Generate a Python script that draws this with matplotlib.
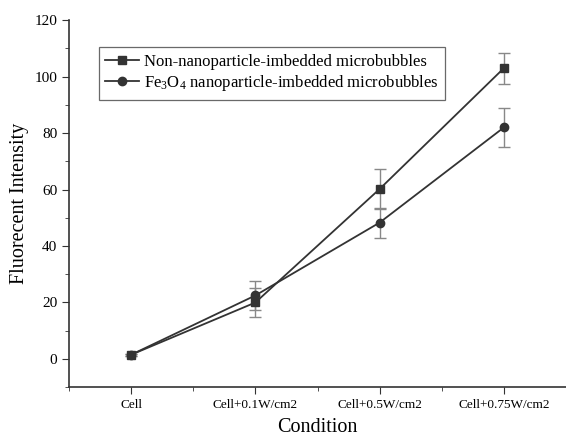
import matplotlib
matplotlib.use("Agg")
import matplotlib.pyplot as plt
from matplotlib.ticker import MultipleLocator, FixedLocator

plt.rcParams['font.family'] = ['Liberation Serif', 'DejaVu Serif']
plt.rcParams['mathtext.fontset'] = 'custom'
plt.rcParams['mathtext.rm'] = 'Liberation Serif'
plt.rcParams['mathtext.it'] = 'Liberation Serif:italic'

# data
conditions = ['Cell', 'Cell+0.1W/cm2', 'Cell+0.5W/cm2', 'Cell+0.75W/cm2']
non_np = [1.5, 20.0, 60.2, 103.0]
non_np_err = [0.3, 5.0, 7.0, 5.5]
fe3o4 = [1.5, 22.5, 48.3, 82.0]
fe3o4_err = [0.3, 5.0, 5.3, 7.0]

fig = plt.figure(figsize=(5.66, 4.38), dpi=100)
ax = fig.add_axes([0.122, 0.116, 0.878, 0.838])

x = list(range(len(conditions)))
c_line = '#333333'
c_err = '#888888'

# error bars first, no legend entry
for vals, errs in [(non_np, non_np_err), (fe3o4, fe3o4_err)]:
    ax.errorbar(x, vals, yerr=errs, fmt='none', ecolor=c_err,
                elinewidth=1.0, capsize=4, capthick=1.0, zorder=2)

ax.plot(x, non_np, 's-', color=c_line, markersize=6, lw=1.3, zorder=3,
        label='Non-nanoparticle-imbedded microbubbles')
ax.plot(x, fe3o4, 'o-', color=c_line, markersize=6, lw=1.3, zorder=3,
        label='Fe$_\\mathregular{3}$O$_\\mathregular{4}$ nanoparticle-imbedded microbubbles')

ax.set_xlim(-0.5, 3.5)
ax.set_ylim(-10, 120)
ax.set_xticks(x)
ax.set_xticklabels(conditions, fontsize=9.5)
ax.xaxis.set_minor_locator(FixedLocator([-0.5, 0.5, 1.5, 2.5, 3.5]))
ax.yaxis.set_major_locator(MultipleLocator(20))
ax.yaxis.set_minor_locator(MultipleLocator(10))
ax.tick_params(axis='y', labelsize=11)
ax.tick_params(which='both', direction='out', color=c_line)
ax.tick_params(which='major', length=5)
ax.tick_params(which='minor', length=3)

for s in ['top', 'right']:
    ax.spines[s].set_visible(False)
for s in ['left', 'bottom']:
    ax.spines[s].set_color(c_line)
    ax.spines[s].set_linewidth(1.2)

ax.set_xlabel('Condition', fontsize=14.5, labelpad=5)
ax.set_ylabel('Fluorecent Intensity', fontsize=14.5)

leg = ax.legend(loc='upper left', bbox_to_anchor=(0.043, 0.95), fontsize=12,
                fancybox=False, edgecolor='#444444', handlelength=2.0,
                borderpad=0.4, labelspacing=0.2, handletextpad=0.3)
leg.get_frame().set_linewidth(0.9)

fig.savefig('out.png', dpi=100)
